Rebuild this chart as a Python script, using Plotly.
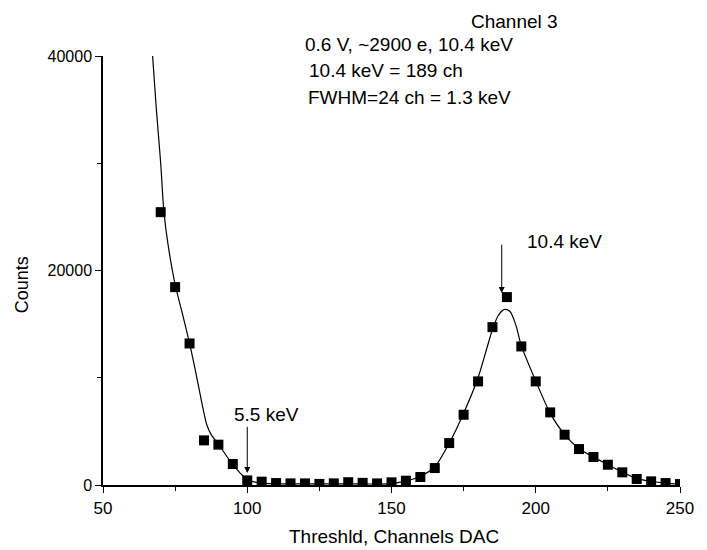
import plotly.graph_objects as go

# Measured data points (threshold DAC channel vs counts)
thr = [70, 75, 80, 85, 90, 95, 100, 105, 110, 115, 120, 125, 130, 135, 140, 145,
       150, 155, 160, 165, 170, 175, 180, 185, 190, 195, 200, 205, 210, 215, 220,
       225, 230, 235, 240, 245, 250]
counts = [25440, 18450, 13200, 4160, 3760, 1960, 430, 310, 180, 150, 150, 100, 150,
          260, 200, 150, 250, 400, 745, 1580, 3910, 6550, 9660, 14720, 17520, 12920,
          9660, 6770, 4690, 3350, 2610, 1890, 1180, 560, 340, 180, 90]

# Fit curve
fit_x = [67.2, 68.5, 70, 71.1, 72.5, 75, 77.5, 80, 82, 84, 85, 86, 87.5, 90, 95,
         100, 103, 106, 110, 120, 130, 140, 150, 155, 160, 165, 170, 175, 180, 183,
         185, 187, 189, 191, 193, 195, 200, 205, 210, 215, 220, 225, 230, 235, 240,
         245, 250]
fit_y = [40000, 35000, 30000, 25500, 22500, 18700, 16000, 13200, 10700, 8000, 6700,
         5600, 4700, 3800, 1900, 500, 250, 150, 110, 100, 100, 100, 120, 380, 800,
         1700, 3900, 6700, 10000, 12700, 14500, 15800, 16350, 16200, 15000, 13000,
         9700, 6700, 4700, 3400, 2600, 1900, 1200, 600, 350, 180, 80]

FONT = "Liberation Sans, Arial, sans-serif"

fig = go.Figure()
fig.add_trace(go.Scatter(x=fit_x, y=fit_y, mode="lines",
                         line=dict(color="black", width=1.2, shape="spline", smoothing=0.8),
                         showlegend=False, hoverinfo="skip"))
fig.add_trace(go.Scatter(x=thr, y=counts, mode="markers",
                         marker=dict(symbol="square", size=10, color="black"),
                         showlegend=False))

ann_font = dict(family=FONT, size=19, color="black")
annotations = [
    dict(x=192.6, xref="x", y=1.080, yref="paper", text="Channel 3", showarrow=False,
         xanchor="center", yanchor="middle", font=ann_font),
    dict(x=119.3, xref="x", y=1.027, yref="paper", text="0.6 V, ~2900 e, 10.4 keV",
         showarrow=False, xanchor="left", yanchor="middle", font=ann_font),
    dict(x=120.7, xref="x", y=0.967, yref="paper", text="10.4 keV = 189 ch",
         showarrow=False, xanchor="left", yanchor="middle", font=ann_font),
    dict(x=120.4, xref="x", y=0.904, yref="paper", text="FWHM=24 ch = 1.3 keV",
         showarrow=False, xanchor="left", yanchor="middle", font=ann_font),
    dict(x=106.7, y=6550, text="5.5 keV", showarrow=False, xanchor="center",
         yanchor="middle", font=ann_font),
    dict(x=209.8, y=22680, text="10.4 keV", showarrow=False, xanchor="center",
         yanchor="middle", font=ann_font),
    dict(x=100, y=1120, ax=100, ay=5555, xref="x", yref="y", axref="x", ayref="y",
         text="", showarrow=True, arrowhead=2, arrowsize=1.2, arrowwidth=1,
         arrowcolor="black"),
    dict(x=188.2, y=17900, ax=188.2, ay=22550, xref="x", yref="y", axref="x", ayref="y",
         text="", showarrow=True, arrowhead=2, arrowsize=1.2, arrowwidth=1,
         arrowcolor="black"),
    # axis titles
    dict(x=0.504, xref="paper", y=-0.119, yref="paper", text="Threshld, Channels DAC",
         showarrow=False, xanchor="center", yanchor="middle",
         font=dict(family=FONT, size=19, color="black")),
    dict(x=-0.140, xref="paper", y=0.466, yref="paper", text="Counts", textangle=-90,
         showarrow=False, xanchor="center", yanchor="middle",
         font=dict(family=FONT, size=18, color="black")),
]

fig.update_layout(
    width=707, height=550,
    margin=dict(l=103, r=27, t=56, b=65),
    paper_bgcolor="white", plot_bgcolor="white",
    font=dict(family=FONT, color="black"),
    annotations=annotations,
    xaxis=dict(range=[50, 250], tickvals=[50, 100, 150, 200, 250], automargin=False,
               ticks="outside", ticklen=6, tickwidth=1.3, tickcolor="black",
               ticklabelstandoff=1,
               minor=dict(tickvals=[75, 125, 175, 225], ticks="outside", ticklen=4,
                          tickwidth=1.3, tickcolor="black"),
               showline=True, linecolor="black", linewidth=1.5, showgrid=False,
               zeroline=False, tickfont=dict(family=FONT, size=17, color="black")),
    yaxis=dict(range=[0, 40000], tickvals=[0, 20000, 40000], tickformat="d",
               automargin=False,
               ticks="outside", ticklen=6, tickwidth=1.3, tickcolor="black",
               minor=dict(tickvals=[10000, 30000], ticks="outside", ticklen=4,
                          tickwidth=1.3, tickcolor="black"),
               showline=True, linecolor="black", linewidth=1.5, showgrid=False,
               zeroline=False, tickfont=dict(family=FONT, size=16, color="black")),
)

fig.write_html("out.html")
